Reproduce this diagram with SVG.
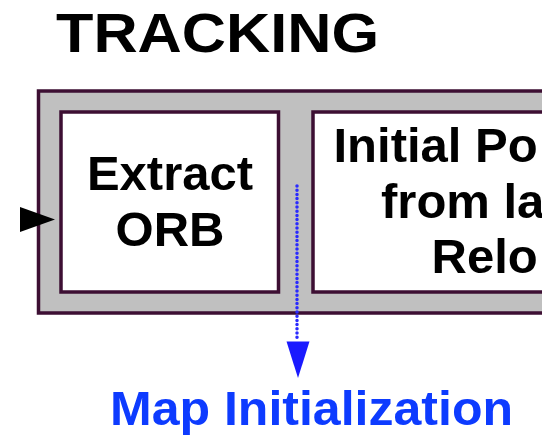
<svg xmlns="http://www.w3.org/2000/svg" width="542" height="438" viewBox="0 0 542 438">
  <style>
    .frame { fill: #c0c0c0; stroke: #3d0f33; stroke-width: 3.5; }
    .box { fill: #ffffff; stroke: #3d0f33; stroke-width: 3.5; }
    .lbl { font-family: "Liberation Sans", Arial, sans-serif; font-weight: bold; font-size: 49px; fill: #000000; }
    .title { font-family: "Liberation Sans", Arial, sans-serif; font-weight: bold; font-size: 56px; fill: #000000; }
    .blue { font-family: "Liberation Sans", Arial, sans-serif; font-weight: bold; font-size: 48px; fill: #0d3bff; }
    .dotted { stroke: #2a2aff; stroke-width: 3.5; stroke-dasharray: 0 4.2; stroke-linecap: round; fill: none; }
  </style>
  <rect width="542" height="438" fill="#ffffff"/>
  <g id="tracking">
    <text class="title" x="56" y="52" textLength="323" lengthAdjust="spacingAndGlyphs">TRACKING</text>
    <rect class="frame" x="38.5" y="91" width="520" height="222"/>
  </g>
  <g id="extract-orb">
    <rect class="box" x="61" y="112" width="217.5" height="180"/>
    <text class="lbl" x="170" y="190" text-anchor="middle">Extract</text>
    <text class="lbl" x="170" y="246" text-anchor="middle">ORB</text>
  </g>
  <g id="initial-pose">
    <rect class="box" x="313" y="112" width="260" height="180"/>
    <text class="lbl" x="333.5" y="162">Initial Po</text>
    <text class="lbl" x="381" y="218">from la</text>
    <text class="lbl" x="431.5" y="273">Relo</text>
  </g>
  <g id="map-initialization">
    <text class="blue" x="110" y="425" textLength="403" lengthAdjust="spacingAndGlyphs">Map Initialization</text>
  </g>
  <g id="connectors">
    <polygon points="20,207 55,219.5 20,232" fill="#000000"/>
    <line class="dotted" x1="297" y1="186" x2="297" y2="340"/>
    <polygon points="286.5,341.5 309.5,341.5 298,378" fill="#1a1aff"/>
  </g>
</svg>
